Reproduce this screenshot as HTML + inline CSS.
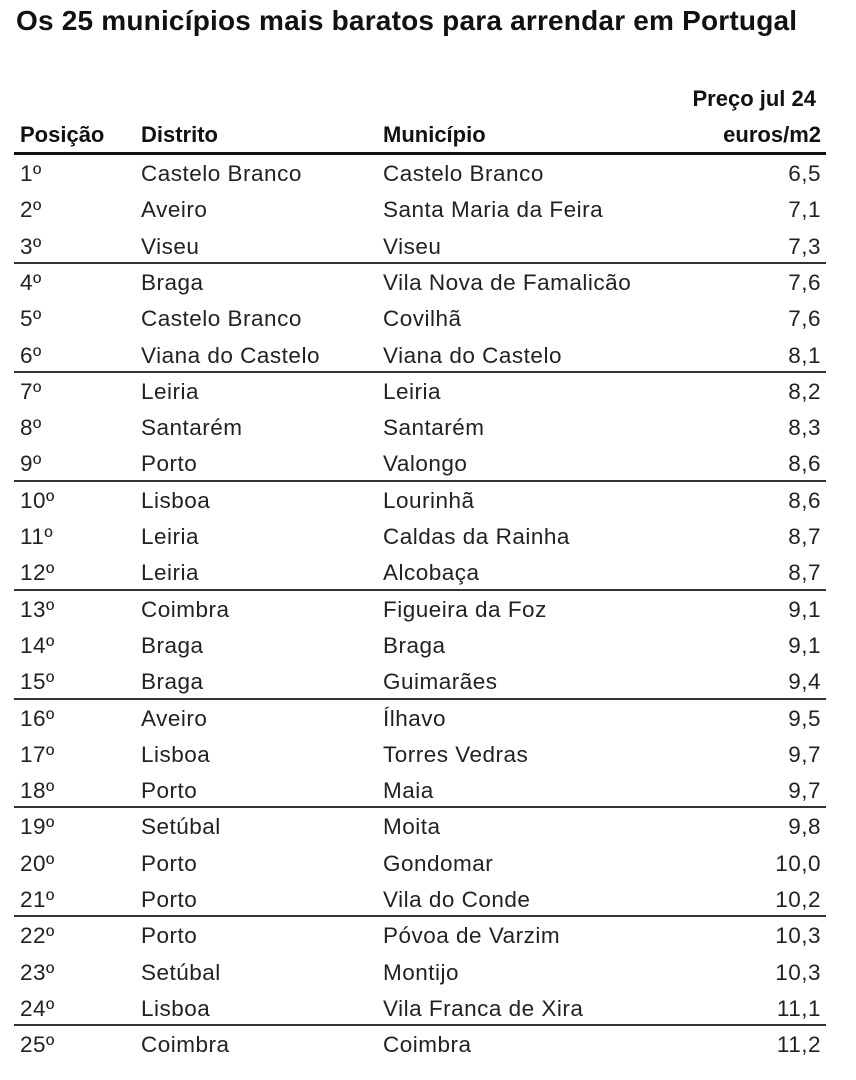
<!DOCTYPE html>
<html><head><meta charset="utf-8"><style>
body{margin:0;width:856px;height:1080px;background:#fff;position:relative;font-family:"Liberation Sans",sans-serif;color:#222;overflow:hidden}
.t{position:absolute;left:16px;top:5px;font-size:28px;font-weight:bold;color:#111;letter-spacing:0.2px}
.h{position:absolute;font-size:22px;font-weight:bold;color:#111}
.r{position:absolute;left:0;width:856px;height:36px;line-height:38px;font-size:22.5px;letter-spacing:0.5px}
.r span{position:absolute;top:0;white-space:nowrap}
.a{left:20px}.b{left:141px}.c{left:383px}.d{right:35px}
.ln{position:absolute;left:14px;width:812px;height:2px;background:#333}
</style></head><body>
<div class="t">Os 25 municípios mais baratos para arrendar em Portugal</div>
<div class="h" style="right:40px;top:86px">Preço jul 24</div>
<div class="h" style="left:20px;top:122px">Posição</div>
<div class="h" style="left:141px;top:122px">Distrito</div>
<div class="h" style="left:383px;top:122px">Município</div>
<div class="h" style="right:35px;top:122px">euros/m2</div>
<div class="ln" style="top:152px;height:3px;background:#111"></div>
<div id="rows"></div>
<script>
var d=[["Castelo Branco","Castelo Branco","6,5"],["Aveiro","Santa Maria da Feira","7,1"],["Viseu","Viseu","7,3"],["Braga","Vila Nova de Famalicão","7,6"],["Castelo Branco","Covilhã","7,6"],["Viana do Castelo","Viana do Castelo","8,1"],["Leiria","Leiria","8,2"],["Santarém","Santarém","8,3"],["Porto","Valongo","8,6"],["Lisboa","Lourinhã","8,6"],["Leiria","Caldas da Rainha","8,7"],["Leiria","Alcobaça","8,7"],["Coimbra","Figueira da Foz","9,1"],["Braga","Braga","9,1"],["Braga","Guimarães","9,4"],["Aveiro","Ílhavo","9,5"],["Lisboa","Torres Vedras","9,7"],["Porto","Maia","9,7"],["Setúbal","Moita","9,8"],["Porto","Gondomar","10,0"],["Porto","Vila do Conde","10,2"],["Porto","Póvoa de Varzim","10,3"],["Setúbal","Montijo","10,3"],["Lisboa","Vila Franca de Xira","11,1"],["Coimbra","Coimbra","11,2"]];
var h="";
for(var i=0;i<25;i++){var y=155+i*36.3;
h+='<div class="r" style="top:'+y+'px"><span class="a">'+(i+1)+'º</span><span class="b">'+d[i][0]+'</span><span class="c">'+d[i][1]+'</span><span class="d">'+d[i][2]+'</span></div>';
if(i%3==2&&i<24)h+='<div class="ln" style="top:'+(155+(i+1)*36.3-2)+'px"></div>';}
document.getElementById("rows").innerHTML=h;
</script>
</body></html>
